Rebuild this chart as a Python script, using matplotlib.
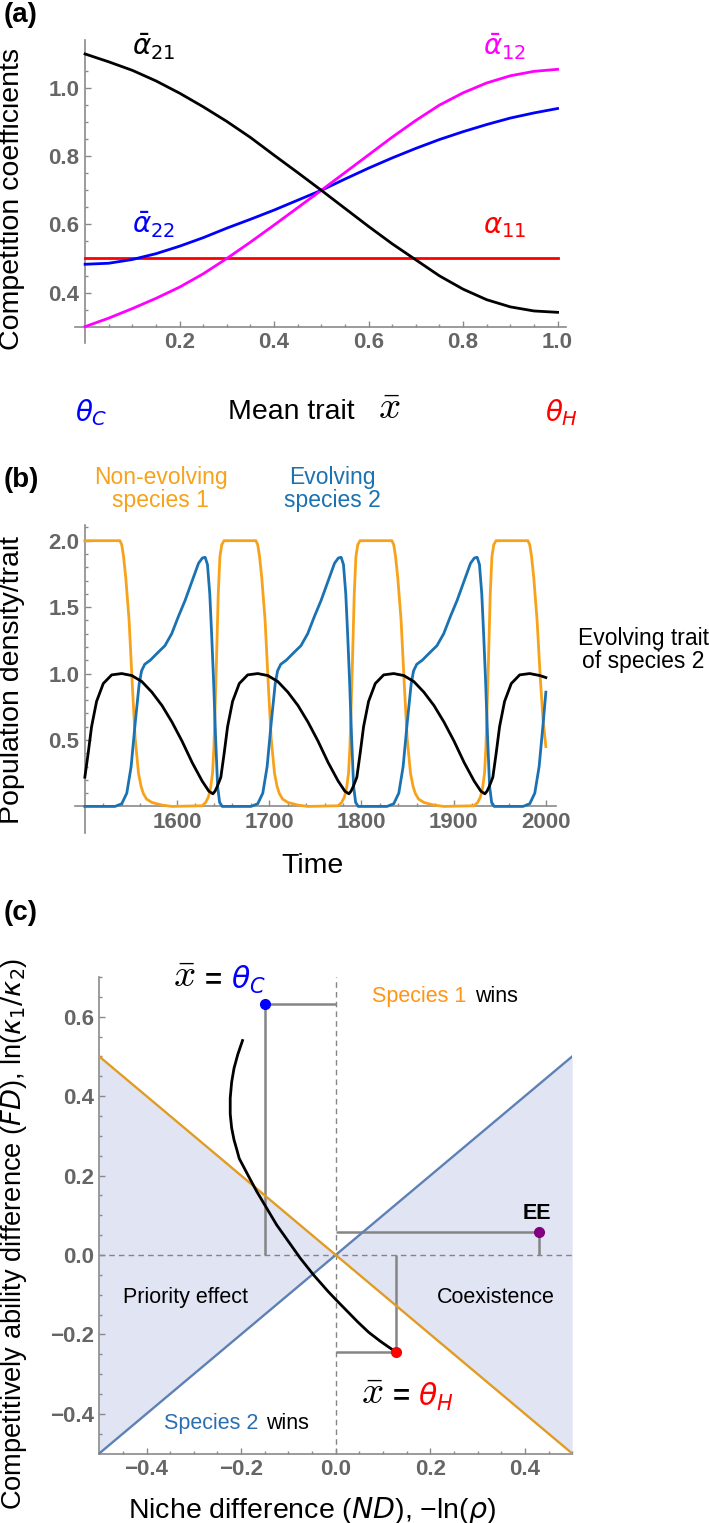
import matplotlib
matplotlib.use('Agg')
import matplotlib.pyplot as plt
import numpy as np
from matplotlib.ticker import FixedLocator

# ---------------- data: panel (a) ----------------
trait_x = [0.00, 0.05, 0.10, 0.15, 0.20, 0.25, 0.30, 0.35, 0.40, 0.45, 0.50,
           0.55, 0.60, 0.65, 0.70, 0.75, 0.80, 0.85, 0.90, 0.95, 1.00]
alpha21 = [1.100, 1.077, 1.052, 1.021, 0.985, 0.945, 0.902, 0.855, 0.803, 0.752, 0.700,
           0.647, 0.594, 0.543, 0.496, 0.449, 0.410, 0.379, 0.358, 0.346, 0.342]
alpha12 = [0.300, 0.325, 0.353, 0.383, 0.416, 0.455, 0.500, 0.548, 0.598, 0.649, 0.700,
           0.752, 0.804, 0.856, 0.905, 0.950, 0.986, 1.015, 1.036, 1.049, 1.055]
alpha22 = [0.483, 0.486, 0.497, 0.514, 0.536, 0.561, 0.589, 0.615, 0.642, 0.671, 0.700,
           0.733, 0.765, 0.795, 0.823, 0.849, 0.872, 0.893, 0.912, 0.927, 0.940]
alpha11_x = [0.0, 1.0]
alpha11 = [0.5, 0.5]

# ---------------- data: panel (b) ----------------
t_sp1 = [1500,
         1538, 1540, 1542, 1544.4, 1548, 1551.6, 1554.5, 1558.2, 1561, 1563.6, 1567, 1572.7, 1583.6,
         1594.5, 1627.3, 1631, 1634, 1636.4, 1638.5, 1640, 1642.5, 1644.7, 1646.5, 1648.5, 1651,
         1685.5, 1687.5, 1689.5, 1691.9, 1695.5, 1699.1, 1702.0, 1705.7, 1708.5, 1711.1, 1714.5, 1720.2, 1731.1,
         1742.0, 1774.8, 1778.5, 1781.5, 1783.9, 1786.0, 1787.5, 1790.0, 1792.2, 1794.0, 1796.0, 1798.5,
         1833, 1835, 1837, 1839.4, 1843, 1846.6, 1849.5, 1853.2, 1856, 1858.6, 1862, 1867.7, 1878.6,
         1889.5, 1922.3, 1926, 1929, 1931.4, 1933.5, 1935, 1937.5, 1939.7, 1941.5, 1943.5, 1946,
         1980.5, 1982.5, 1984.5, 1986.9, 1990.5, 1994.1, 1997, 2000]
n_sp1 = [2.0,
         2.0, 1.97, 1.88, 1.72, 1.40, 0.90, 0.52, 0.25, 0.15, 0.095, 0.055, 0.03, 0.01,
         0.0, 0.005, 0.03, 0.07, 0.14, 0.25, 0.45, 1.03, 1.60, 1.88, 1.97, 2.0,
         2.0, 1.97, 1.88, 1.72, 1.40, 0.90, 0.52, 0.25, 0.15, 0.095, 0.055, 0.03, 0.01,
         0.0, 0.005, 0.03, 0.07, 0.14, 0.25, 0.45, 1.03, 1.60, 1.88, 1.97, 2.0,
         2.0, 1.97, 1.88, 1.72, 1.40, 0.90, 0.52, 0.25, 0.15, 0.095, 0.055, 0.03, 0.01,
         0.0, 0.005, 0.03, 0.07, 0.14, 0.25, 0.45, 1.03, 1.60, 1.88, 1.97, 2.0,
         2.0, 1.97, 1.88, 1.72, 1.40, 0.95, 0.65, 0.45]

t_sp2 = [1500,
         1532.7, 1540, 1545.5, 1550.2, 1554.5, 1558.9, 1561.5, 1565, 1570.9, 1579.5, 1586.9, 1594.2, 1601.5,
         1608.7, 1616, 1623.3, 1627.5, 1630.5, 1633, 1635.5, 1637.5, 1639.6, 1641.8, 1644, 1646.2, 1649,
         1680.2, 1687.5, 1693, 1697.7, 1702, 1706.4, 1709, 1712.5, 1718.4, 1727, 1734.4, 1741.7, 1749,
         1756.2, 1763.5, 1770.8, 1775, 1778, 1780.5, 1783, 1785, 1787.1, 1789.3, 1791.5, 1793.7, 1796.5,
         1827.7, 1835, 1840.5, 1845.2, 1849.5, 1853.9, 1856.5, 1860, 1865.9, 1874.5, 1881.9, 1889.2, 1896.5,
         1903.7, 1911, 1918.3, 1922.5, 1925.5, 1928, 1930.5, 1932.5, 1934.6, 1936.8, 1939, 1941.2, 1944,
         1975.2, 1982.5, 1988, 1992.7, 1997, 2000]
n_sp2 = [0.0,
         0.0, 0.02, 0.10, 0.30, 0.62, 0.92, 1.02, 1.07, 1.10, 1.16, 1.21, 1.30, 1.43,
         1.55, 1.69, 1.83, 1.87, 1.875, 1.82, 1.60, 1.30, 0.95, 0.52, 0.15, 0.03, 0.0,
         0.0, 0.02, 0.10, 0.30, 0.62, 0.92, 1.02, 1.07, 1.10, 1.16, 1.21, 1.30, 1.43,
         1.55, 1.69, 1.83, 1.87, 1.875, 1.82, 1.60, 1.30, 0.95, 0.52, 0.15, 0.03, 0.0,
         0.0, 0.02, 0.10, 0.30, 0.62, 0.92, 1.02, 1.07, 1.10, 1.16, 1.21, 1.30, 1.43,
         1.55, 1.69, 1.83, 1.87, 1.875, 1.82, 1.60, 1.30, 0.95, 0.52, 0.15, 0.03, 0.0,
         0.0, 0.02, 0.10, 0.30, 0.62, 0.86]

t_trait = [1500, 1503.6, 1507.3, 1512.7, 1520, 1529.1, 1540, 1550.9, 1561.8, 1572.7, 1583.6, 1594.5,
           1605.5, 1616.4, 1627.3, 1634.5, 1638.9, 1641.2, 1643.6,
           1647.5, 1651.1, 1654.8, 1660.2, 1667.5, 1676.6, 1687.5, 1698.4, 1709.3, 1720.2, 1731.1, 1742,
           1753, 1763.9, 1774.8, 1782, 1786.4, 1788.7, 1791.1,
           1795, 1798.6, 1802.3, 1807.7, 1815, 1824.1, 1835, 1845.9, 1856.8, 1867.7, 1878.6, 1889.5,
           1900.5, 1911.4, 1922.3, 1929.5, 1933.9, 1936.2, 1938.6,
           1942.5, 1946.1, 1949.8, 1955.2, 1962.5, 1971.6, 1982.5, 1993.4, 2000]
z_trait = [0.22, 0.40, 0.60, 0.79, 0.925, 0.99, 1.0, 0.985, 0.94, 0.86, 0.76, 0.635,
           0.49, 0.33, 0.19, 0.115, 0.095, 0.115, 0.15,
           0.22, 0.40, 0.60, 0.79, 0.925, 0.99, 1.0, 0.985, 0.94, 0.86, 0.76, 0.635,
           0.49, 0.33, 0.19, 0.115, 0.095, 0.115, 0.15,
           0.22, 0.40, 0.60, 0.79, 0.925, 0.99, 1.0, 0.985, 0.94, 0.86, 0.76, 0.635,
           0.49, 0.33, 0.19, 0.115, 0.095, 0.115, 0.15,
           0.22, 0.40, 0.60, 0.79, 0.925, 0.99, 1.0, 0.985, 0.97]

# ---------------- data: panel (c) ----------------
boundary_x = [-0.5, 0.5]
sp1_boundary = [0.5, -0.5]     # FD = -ND
sp2_boundary = [-0.5, 0.5]     # FD = ND
wedge_x = [-0.5, 0.0, 0.5]
wedge_lo = [-0.5, 0.0, -0.5]
wedge_hi = [0.5, 0.0, 0.5]
nd_path = [-0.197, -0.207, -0.215, -0.220, -0.223, -0.223, -0.220, -0.215, -0.209, -0.204,
           -0.185, -0.167, -0.147, -0.125, -0.100, -0.075, -0.047, -0.016, 0.000, 0.023,
           0.046, 0.070, 0.094, 0.112, 0.128]
fd_path = [0.540, 0.505, 0.470, 0.435, 0.395, 0.355, 0.320, 0.290, 0.265, 0.243,
           0.200, 0.160, 0.120, 0.076, 0.034, -0.008, -0.050, -0.092, -0.112, -0.140,
           -0.168, -0.195, -0.217, -0.232, -0.245]
pt_thetaC = (-0.150, 0.633)
pt_thetaH = (0.128, -0.245)
pt_EE = (0.429, 0.057)

# ---------------- figure ----------------
plt.rcParams['font.family'] = ['Liberation Sans', 'DejaVu Sans']
plt.rcParams['mathtext.fontset'] = 'dejavusans'

W, H = 709, 1523
fig = plt.figure(figsize=(W / 100, H / 100), dpi=100)


def box(l, r, t, b):
    return [l / W, 1 - b / H, (r - l) / W, (b - t) / H]


def fx(px):
    return px / W


def fy(py):
    return 1 - py / H


AX_GRAY = '#8a8a8a'
TICK_GRAY = '#666666'
TICK_FS = 16
LABEL_FS = 20.5


def style(ax, xmaj, xlab, xmin, ymaj, ylab, ymin):
    for s in ['top', 'right']:
        ax.spines[s].set_visible(False)
    for s in ['left', 'bottom']:
        ax.spines[s].set_color(AX_GRAY)
        ax.spines[s].set_linewidth(1.2)
    ax.set_xticks(xmaj, xlab, fontweight='bold', color=TICK_GRAY, fontsize=TICK_FS)
    ax.set_yticks(ymaj, ylab, fontweight='bold', color=TICK_GRAY, fontsize=TICK_FS)
    ax.xaxis.set_minor_locator(FixedLocator(xmin))
    ax.yaxis.set_minor_locator(FixedLocator(ymin))
    ax.tick_params(which='both', direction='in', color=AX_GRAY, width=1.0)
    ax.tick_params(which='major', length=4.0, pad=4)
    ax.tick_params(which='minor', length=2.3)
    ax.patch.set_alpha(0)


# ===== panel (a) =====
axa = fig.add_axes(box(74.7, 565.6, 40, 343))
axa.set_xlim(-0.022, 1.017)
axa.set_ylim(0.252, 1.141)
axa.spines['left'].set_position(('data', 0.0))
axa.spines['bottom'].set_position(('data', 0.3))
style(axa, [0.2, 0.4, 0.6, 0.8, 1.0], ['0.2', '0.4', '0.6', '0.8', '1.0'],
      np.arange(0.05, 1.001, 0.05),
      [0.4, 0.6, 0.8, 1.0], ['0.4', '0.6', '0.8', '1.0'],
      np.arange(0.35, 1.101, 0.05))
axa.plot(alpha11_x, alpha11, color='#ff0000', lw=2.0, clip_on=False, zorder=3)
axa.plot(trait_x, alpha22, color='#0000ff', lw=2.0, clip_on=False, zorder=3)
axa.plot(trait_x, alpha12, color='#ff00ff', lw=2.0, clip_on=False, zorder=3)
axa.plot(trait_x, alpha21, color='#000000', lw=2.0, clip_on=False, zorder=3)
axa.text(0.100, 1.097, r'$\bar{\alpha}_{21}$', fontsize=20, color='black', va='baseline', ha='left')
axa.text(0.842, 1.097, r'$\bar{\alpha}_{12}$', fontsize=20, color='#ff00ff', va='baseline', ha='left')
axa.text(0.099, 0.574, r'$\bar{\alpha}_{22}$', fontsize=20, color='#0000ff', va='baseline', ha='left')
axa.text(0.842, 0.574, r'$\alpha_{11}$', fontsize=20, color='#ff0000', va='baseline', ha='left')

fig.text(fx(4), fy(2), '(a)', fontsize=20, fontweight='bold', ha='left', va='top')
fig.text(fx(12), fy(199), 'Competition coefficients', rotation=90, fontsize=LABEL_FS,
         ha='center', va='center')
fig.text(fx(91), fy(413), r'$\theta_C$', color='#0000ff', fontsize=20, ha='center', va='center')
fig.text(fx(562), fy(413), r'$\theta_H$', color='#ff0000', fontsize=20, ha='center', va='center')
fig.text(fx(228), fy(412), 'Mean trait', fontsize=LABEL_FS, ha='left', va='center')
fig.text(fx(389), fy(409), r'$\bar{x}$', fontsize=28, math_fontfamily='cm', ha='center', va='center')

# ===== panel (b) =====
ORANGE_B = '#f7a21b'
BLUE_B = '#1a72b2'
axb = fig.add_axes(box(74.7, 556, 525, 833))
axb.set_xlim(1489, 2011)
axb.set_ylim(-0.2, 2.118)
axb.spines['left'].set_position(('data', 1500))
axb.spines['bottom'].set_position(('data', 0.0))
style(axb, [1600, 1700, 1800, 1900, 2000], ['1600', '1700', '1800', '1900', '2000'],
      np.arange(1520, 2001, 20),
      [0.5, 1.0, 1.5, 2.0], ['0.5', '1.0', '1.5', '2.0'],
      np.arange(0.1, 2.101, 0.1))
axb.plot(t_sp1, n_sp1, color=ORANGE_B, lw=2.0, clip_on=False, zorder=3)
axb.plot(t_sp2, n_sp2, color=BLUE_B, lw=2.0, clip_on=False, zorder=3)
axb.plot(t_trait, z_trait, color='black', lw=2.0, clip_on=False, zorder=4)

fig.text(fx(4), fy(467), '(b)', fontsize=20, fontweight='bold', ha='left', va='top')
fig.text(fx(160.6), fy(489), 'Non-evolving\nspecies 1', color=ORANGE_B, fontsize=16.5,
         ha='center', va='center', linespacing=1.05)
fig.text(fx(332.6), fy(489), 'Evolving\nspecies 2', color=BLUE_B, fontsize=16.5,
         ha='center', va='center', linespacing=1.05)
fig.text(fx(643), fy(650), 'Evolving trait\nof species 2', color='black', fontsize=16.5,
         ha='center', va='center', linespacing=1.05)
fig.text(fx(12), fy(680), 'Population density/trait', rotation=90, fontsize=LABEL_FS,
         ha='center', va='center')
fig.text(fx(312), fy(866), 'Time', fontsize=LABEL_FS, ha='center', va='center')

# ===== panel (c) =====
ORANGE_C = '#e19c24'
BLUE_C = '#5e81b5'
SHADE = '#e0e4f3'
GRAY = '#858585'
axc = fig.add_axes(box(99.2, 572.2, 977, 1453.5))
axc.set_xlim(-0.5, 0.5)
axc.set_ylim(-0.5, 0.7)
style(axc, [-0.4, -0.2, 0.0, 0.2, 0.4], ['\u22120.4', '\u22120.2', '0.0', '0.2', '0.4'],
      np.arange(-0.45, 0.501, 0.05),
      [-0.4, -0.2, 0.0, 0.2, 0.4, 0.6], ['\u22120.4', '\u22120.2', '0.0', '0.2', '0.4', '0.6'],
      np.arange(-0.45, 0.701, 0.05))
axc.fill_between(wedge_x, wedge_lo, wedge_hi, color=SHADE, lw=0, zorder=0)
axc.axvline(0.0, color=GRAY, lw=1.0, ls=(0, (4, 3)), zorder=1)
axc.axhline(0.0, color=GRAY, lw=1.0, ls=(0, (4, 3)), zorder=1)
axc.plot(boundary_x, sp2_boundary, color=BLUE_C, lw=1.7, zorder=3)
axc.plot(boundary_x, sp1_boundary, color=ORANGE_C, lw=1.7, zorder=3.5)

for (px, py) in [pt_thetaC, pt_thetaH, pt_EE]:
    axc.plot([0.0, px], [py, py], color=GRAY, lw=1.8, zorder=2, solid_capstyle='butt')
    axc.plot([px, px], [0.0, py], color=GRAY, lw=1.8, zorder=2, solid_capstyle='butt')

axc.plot(nd_path, fd_path, color='black', lw=2.0, zorder=4)
axc.plot(*pt_thetaC, 'o', color='#0000ff', ms=7, zorder=5, clip_on=False)
axc.plot(*pt_thetaH, 'o', color='#ff0000', ms=7, zorder=5, clip_on=False)
axc.plot(*pt_EE, 'o', color='#800080', ms=7, zorder=5, clip_on=False)

TFS = 15.5
axc.text(0.0765, 0.650, 'Species 1', color='#ff9417', fontsize=TFS, ha='left', va='center')
axc.text(0.2945, 0.650, 'wins', color='black', fontsize=TFS, ha='left', va='center')
axc.text(-0.363, -0.425, 'Species 2', color='#2b6fb2', fontsize=TFS, ha='left', va='center')
axc.text(-0.147, -0.425, 'wins', color='black', fontsize=TFS, ha='left', va='center')
axc.text(-0.3185, -0.108, 'Priority effect', fontsize=TFS, ha='center', va='center')
axc.text(0.338, -0.108, 'Coexistence', fontsize=TFS, ha='center', va='center')
axc.text(0.426, 0.105, 'EE', fontsize=TFS, fontweight='bold', ha='center', va='center')

axc.text(-0.343, 0.700, r'$\bar{x}$', fontsize=28, math_fontfamily='cm', ha='left', va='center',
         clip_on=False)
axc.text(-0.258, 0.692, '=', fontsize=21, fontweight='bold', ha='center', va='center')
axc.text(-0.222, 0.692, r'$\theta_C$', color='#0000ff', fontsize=21.5, ha='left', va='center')
axc.text(0.0526, -0.350, r'$\bar{x}$', fontsize=28, math_fontfamily='cm', ha='left', va='center')
axc.text(0.138, -0.357, '=', fontsize=21, fontweight='bold', ha='center', va='center')
axc.text(0.175, -0.357, r'$\theta_H$', color='#ff0000', fontsize=21.5, ha='left', va='center')

fig.text(fx(4), fy(900), '(c)', fontsize=20, fontweight='bold', ha='left', va='top')
fig.text(fx(14), fy(1234),
         r'Competitively ability difference ($\mathit{FD}$), ln($\kappa_1/\kappa_2$)',
         rotation=90, fontsize=19.6, ha='center', va='center')
fig.text(fx(312), fy(1510), 'Niche difference ($\\mathit{ND}$), \u2212ln($\\rho$)',
         fontsize=LABEL_FS, ha='center', va='center')

fig.savefig('out.png', dpi=100)
